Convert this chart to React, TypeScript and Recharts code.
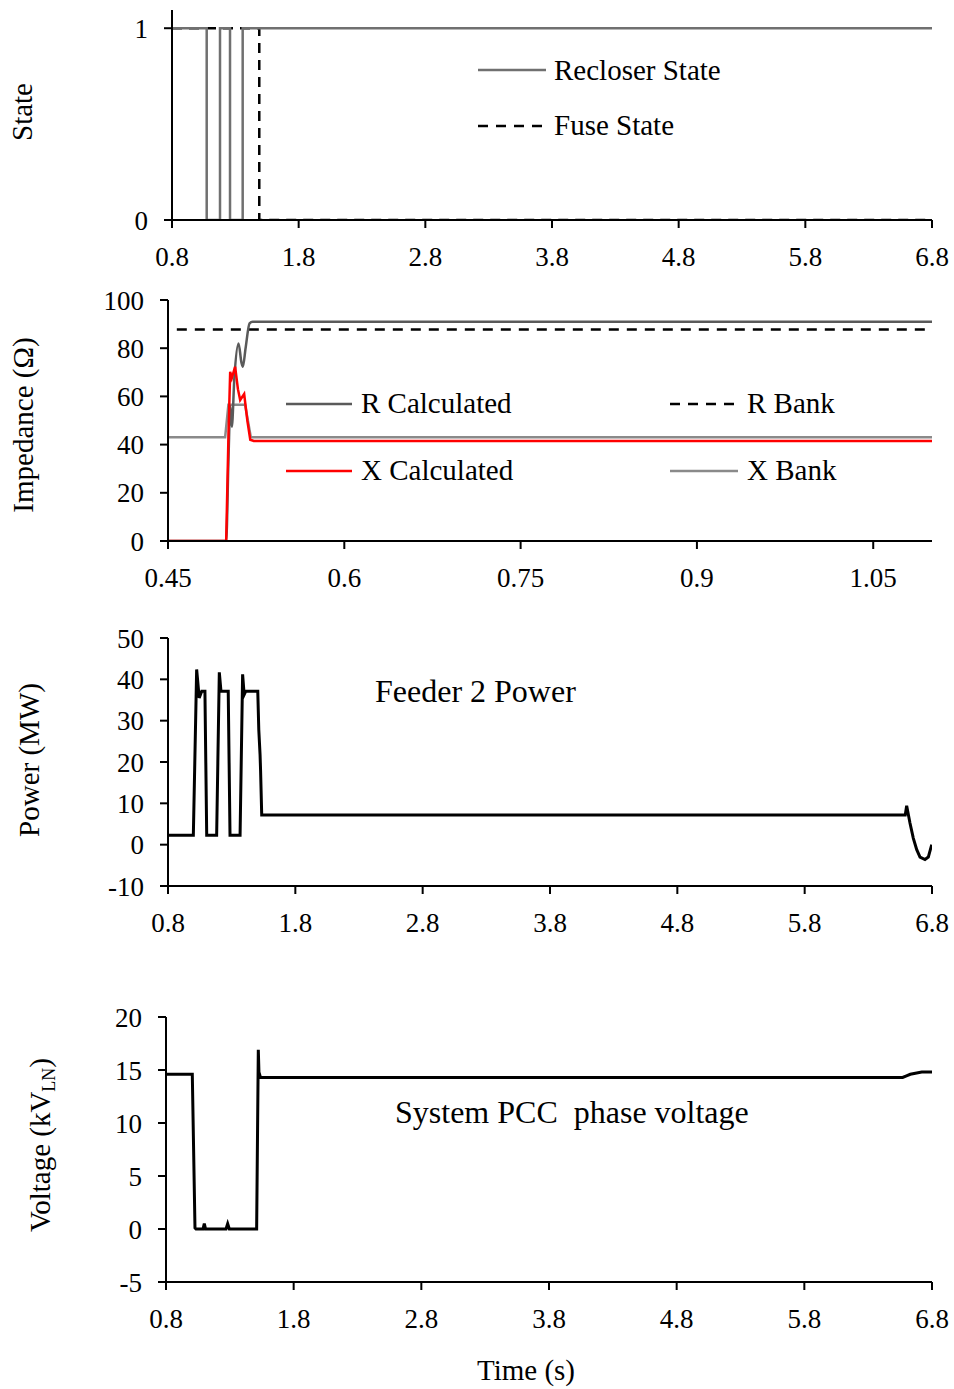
import React from 'react';
import { LineChart, Line, XAxis, YAxis } from 'recharts';

const FONT = '"Liberation Serif", "Times New Roman", Times, serif';

// ---------- Panel 1: states ----------
const stateTicksX = [0.8, 1.8, 2.8, 3.8, 4.8, 5.8, 6.8];
const stateTicksY = [0, 1];
const recloserT = [0.8, 1.074, 1.074, 1.179, 1.179, 1.258, 1.258, 1.358, 1.358, 6.8];
const recloserV = [1, 1, 0, 0, 1, 1, 0, 0, 1, 1];
const fuseT = [0.8, 1.489, 1.489, 6.8];
const fuseV = [1, 1, 0, 0];

// ---------- Panel 2: impedance ----------
const impTicksX = [0.45, 0.6, 0.75, 0.9, 1.05];
const impTicksY = [0, 20, 40, 60, 80, 100];
const rCalcT = [0.45, 0.4995, 0.5015, 0.503, 0.5043, 0.5065, 0.51, 0.5125, 0.5137, 0.516, 0.5194, 0.522, 1.1];
const rCalcV = [0, 0, 35, 56, 47.4, 68, 82, 74, 72.3, 80, 90.3, 91, 91];
const rBankT = [0.4575, 1.1];
const rBankV = [87.8, 87.8];
const xCalcT = [0.45, 0.4995, 0.5015, 0.5029, 0.5043, 0.5071, 0.5095, 0.5114, 0.5148, 0.5175, 0.52, 0.523, 1.1];
const xCalcV = [0, 0, 45, 70.2, 67.6, 72.3, 63, 58.5, 61, 50, 42, 41.5, 41.5];
const xBankT = [0.45, 0.4986, 0.5014, 0.5156, 0.5205, 1.1];
const xBankV = [43, 43, 56.5, 56.5, 43, 43];

// ---------- Panel 3: power ----------
const powTicksX = [0.8, 1.8, 2.8, 3.8, 4.8, 5.8, 6.8];
const powTicksY = [-10, 0, 10, 20, 30, 40, 50];
const powerT = [0.8, 0.999, 1.025, 1.045, 1.065, 1.09, 1.104, 1.182, 1.203, 1.216, 1.273, 1.287, 1.366, 1.386, 1.398, 1.41, 1.505, 1.513, 1.523, 1.527, 1.536, 6.59, 6.601, 6.627, 6.653, 6.68, 6.706, 6.745, 6.771, 6.798];
const powerV = [2.25, 2.25, 42.4, 35.5, 37.1, 37.1, 2.25, 2.25, 41.7, 37.1, 37.1, 2.25, 2.25, 41.2, 36.3, 37.1, 37.1, 27.8, 21.8, 18, 7.2, 7.2, 9.4, 5.25, 1.6, -1.2, -3.0, -3.6, -3.0, 0];

// ---------- Panel 4: voltage ----------
const volTicksX = [0.8, 1.8, 2.8, 3.8, 4.8, 5.8, 6.8];
const volTicksY = [-5, 0, 5, 10, 15, 20];
const voltT = [0.8, 1.006, 1.027, 1.035, 1.09, 1.1, 1.11, 1.27, 1.283, 1.296, 1.51, 1.523, 1.528, 1.54, 6.57, 6.6, 6.63, 6.68, 6.72, 6.8];
const voltV = [14.6, 14.6, 0.1, 0, 0, 0.5, 0, 0, 0.5, 0, 0, 16.9, 14.8, 14.3, 14.3, 14.45, 14.6, 14.72, 14.8, 14.8];

const rows = (t: number[], v: number[]) => t.map((x, i) => ({ t: x, v: v[i] }));

const axisLine = { stroke: '#000', strokeWidth: 2 };
const tickStyle = { fill: '#000', fontSize: 27, fontFamily: FONT };

type FrameProps = { xDomain: [number, number]; yDomain: [number, number]; xTicks: number[]; yTicks: number[] };

function axes({ xDomain, yDomain, xTicks, yTicks }: FrameProps) {
  return [
    <XAxis key="xb" xAxisId={0} type="number" dataKey="t" domain={xDomain} ticks={xTicks} interval={0}
      allowDataOverflow height={42} axisLine={axisLine} tickLine={axisLine} tickSize={8} tickMargin={19} tick={tickStyle} />,
    <XAxis key="xt" xAxisId="top" orientation="top" type="number" dataKey="t" domain={xDomain} allowDataOverflow
      height={0} axisLine={axisLine} tick={false} tickLine={false} />,
    <YAxis key="yl" yAxisId={0} type="number" domain={yDomain} ticks={yTicks} interval={0} allowDataOverflow
      width={60} axisLine={axisLine} tickLine={axisLine} tickSize={8} tickMargin={16} tick={tickStyle} />,
    <YAxis key="yr" yAxisId="right" orientation="right" type="number" domain={yDomain} allowDataOverflow
      width={0} axisLine={axisLine} tick={false} tickLine={false} />,
  ];
}

const abs = (top: number): React.CSSProperties => ({ position: 'absolute', left: 0, top });
const chartStyle: React.CSSProperties = { fontFamily: FONT, overflow: 'visible' };

export default function App() {
  return (
    <div style={{ position: 'absolute', left: 0, top: 0, width: 954, height: 1389, background: '#fff', fontFamily: FONT }}>
      <style>{`.recharts-text, .recharts-cartesian-axis-tick-value { font-family: ${FONT}; } .recharts-surface { overflow: visible; }`}</style>
      {/* Panel 1 */}
      <div style={abs(0)}>
        <LineChart width={954} height={290} margin={{ top: 10, right: 22, bottom: 28, left: 112 }} style={chartStyle}>
          {axes({ xDomain: [0.8, 6.8], yDomain: [0, 1.095], xTicks: stateTicksX, yTicks: stateTicksY })}
          <Line data={rows(fuseT, fuseV)} dataKey="v" type="linear" dot={false} stroke="#000" strokeWidth={2.5}
            strokeDasharray="10 7" isAnimationActive={false} />
          <Line data={rows(recloserT, recloserV)} dataKey="v" type="linear" dot={false} stroke="#707070" strokeWidth={2.5}
            isAnimationActive={false} />
        </LineChart>
      </div>

      {/* Panel 2 */}
      <div style={abs(280)}>
        <LineChart width={954} height={330} margin={{ top: 20, right: 22, bottom: 27, left: 108 }} style={chartStyle}>
          {axes({ xDomain: [0.45, 1.1], yDomain: [0, 100], xTicks: impTicksX, yTicks: impTicksY })}
          <Line data={rows(rBankT, rBankV)} dataKey="v" type="linear" dot={false} stroke="#000" strokeWidth={2.5}
            strokeDasharray="10 8" isAnimationActive={false} />
          <Line data={rows(xBankT, xBankV)} dataKey="v" type="linear" dot={false} stroke="#8a8a8a" strokeWidth={2.5}
            isAnimationActive={false} />
          <Line data={rows(rCalcT, rCalcV)} dataKey="v" type="monotone" dot={false} stroke="#5a5a5a" strokeWidth={2.5}
            isAnimationActive={false} />
          <Line data={rows(xCalcT, xCalcV)} dataKey="v" type="linear" dot={false} stroke="#ff0000" strokeWidth={2.5}
            isAnimationActive={false} />
        </LineChart>
      </div>

      {/* Panel 3 */}
      <div style={abs(620)}>
        <LineChart width={954} height={335} margin={{ top: 18, right: 22, bottom: 27, left: 108 }} style={chartStyle}>
          {axes({ xDomain: [0.8, 6.8], yDomain: [-10, 50], xTicks: powTicksX, yTicks: powTicksY })}
          <Line data={rows(powerT, powerV)} dataKey="v" type="linear" dot={false} stroke="#000" strokeWidth={3}
            isAnimationActive={false} />
        </LineChart>
      </div>

      {/* Panel 4 */}
      <div style={abs(1000)}>
        <LineChart width={954} height={389} margin={{ top: 17, right: 22, bottom: 65, left: 106 }} style={chartStyle}>
          {axes({ xDomain: [0.8, 6.8], yDomain: [-5, 20], xTicks: volTicksX, yTicks: volTicksY })}
          <Line data={rows(voltT, voltV)} dataKey="v" type="linear" dot={false} stroke="#000" strokeWidth={3}
            isAnimationActive={false} />
        </LineChart>
      </div>

      {/* Annotations: legends, labels, axis titles */}
      <svg width={954} height={1389} style={{ position: 'absolute', left: 0, top: 0, pointerEvents: 'none' }}
        fontFamily={FONT} fontSize={29} fill="#000">
        {/* Panel 1 legend */}
        <line x1={478} y1={70} x2={546} y2={70} stroke="#707070" strokeWidth={2.5} />
        <text x={554} y={80}>Recloser State</text>
        <line x1={478} y1={126} x2={546} y2={126} stroke="#000" strokeWidth={2.5} strokeDasharray="10 8" />
        <text x={554} y={135}>Fuse State</text>

        {/* Panel 2 legend */}
        <line x1={286} y1={404} x2={352} y2={404} stroke="#5a5a5a" strokeWidth={2.5} />
        <text x={361} y={413}>R Calculated</text>
        <line x1={670} y1={404} x2={738} y2={404} stroke="#000" strokeWidth={2.5} strokeDasharray="10 8" />
        <text x={747} y={413}>R Bank</text>
        <line x1={286} y1={471} x2={352} y2={471} stroke="#ff0000" strokeWidth={2.5} />
        <text x={361} y={480}>X Calculated</text>
        <line x1={670} y1={471} x2={738} y2={471} stroke="#8a8a8a" strokeWidth={2.5} />
        <text x={747} y={480}>X Bank</text>

        {/* Panel labels */}
        <text x={375} y={702} fontSize={32}>Feeder 2 Power</text>
        <text x={395} y={1123} fontSize={32} style={{ whiteSpace: 'pre' }}>System PCC  phase voltage</text>
        <text x={526} y={1380} textAnchor="middle">Time (s)</text>

        {/* Axis titles */}
        <text transform="translate(32,112) rotate(-90)" textAnchor="middle">State</text>
        <text transform="translate(33,425) rotate(-90)" textAnchor="middle">Impedance (Ω)</text>
        <text transform="translate(39,760) rotate(-90)" textAnchor="middle">Power (MW)</text>
        <text transform="translate(50,1145) rotate(-90)" textAnchor="middle">
          Voltage (kV<tspan fontSize={18} dy={5}>LN</tspan><tspan dy={-5}>)</tspan>
        </text>
      </svg>
    </div>
  );
}
